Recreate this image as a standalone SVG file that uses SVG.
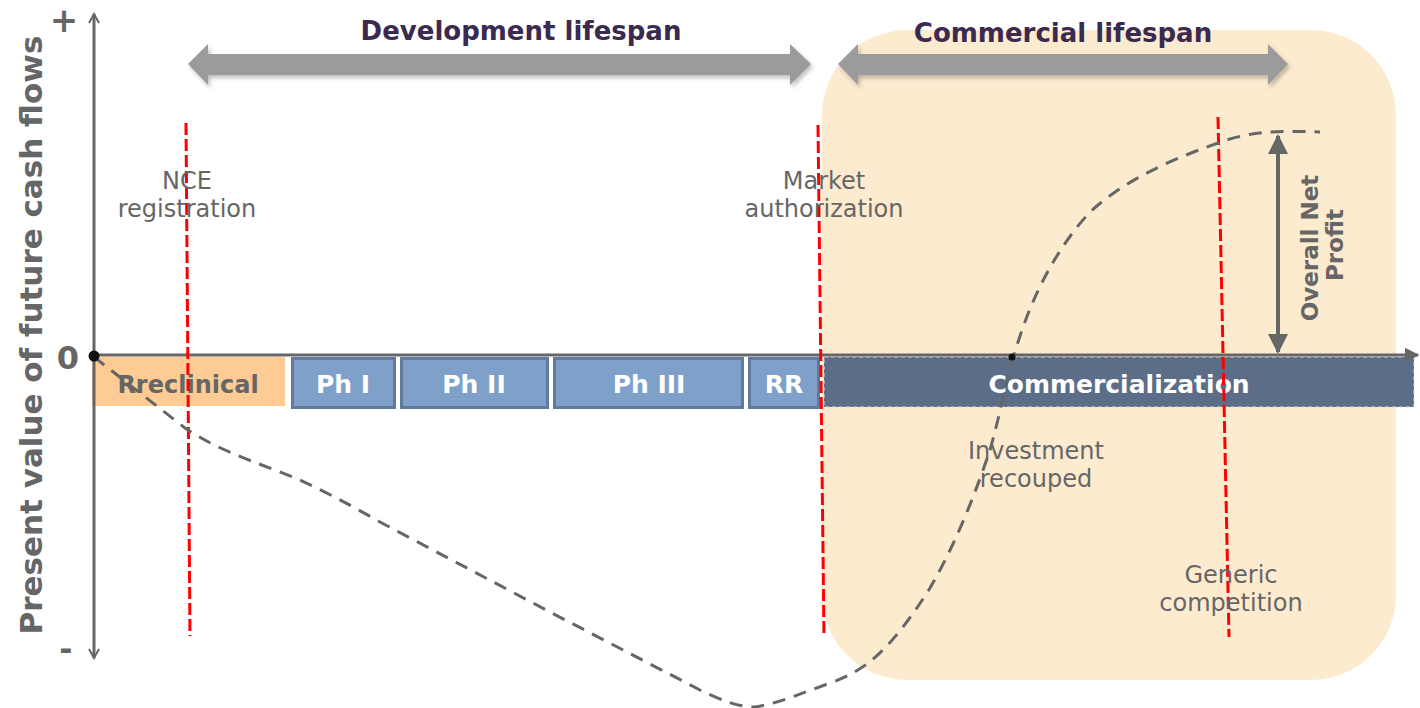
<svg xmlns="http://www.w3.org/2000/svg" width="1420" height="708" viewBox="0 0 1420 708">
<style>
.lbl{font-family:"DejaVu Sans",Verdana,sans-serif;font-size:24px;fill:#666;text-anchor:middle}
.ttl{font-family:"DejaVu Sans",Verdana,sans-serif;font-size:26px;font-weight:bold;fill:#3A2A4F;text-anchor:middle}
.blk{font-family:"DejaVu Sans",Verdana,sans-serif;font-size:25px;font-weight:bold;fill:#fff;text-anchor:middle}
.ax{font-family:"DejaVu Sans",Verdana,sans-serif;font-weight:bold;fill:#666;text-anchor:middle}
.phase{fill:#7FA0C8;stroke:#5F7A9A;stroke-width:3}
.red{stroke:#FF0000;stroke-width:3;stroke-dasharray:12 4;fill:none}
.dbl{fill:#9B9B9B}
</style>
<defs>
<marker id="chev" viewBox="0 0 12 12" refX="10" refY="6" markerWidth="12" markerHeight="12" markerUnits="userSpaceOnUse" orient="auto-start-reverse">
<path d="M1,1 L10,6 L1,11" fill="none" stroke="#666" stroke-width="2"/>
</marker>
<marker id="tri" viewBox="0 0 10 10" refX="9" refY="5" markerWidth="5" markerHeight="5" orient="auto-start-reverse">
<path d="M0,0 L10,5 L0,10 z" fill="#666"/>
</marker>
<filter id="sh" x="-5%" y="-30%" width="110%" height="160%">
<feDropShadow dx="2" dy="3" stdDeviation="2" flood-color="#000" flood-opacity="0.25"/>
</filter>
</defs>

<rect id="commercial-bg" x="822" y="30" width="574" height="650" rx="85" ry="85" fill="#FDEBD0"/>

<g id="dev-arrow">
<path class="dbl" filter="url(#sh)" d="M188,64 L208,44 L208,54 L790,54 L790,44 L811,64 L790,85 L790,75 L208,75 L208,85 Z"/>
<text class="ttl" x="521" y="40">Development lifespan</text>
</g>
<g id="com-arrow">
<path class="dbl" filter="url(#sh)" d="M838,64 L858,44 L858,54 L1268,54 L1268,44 L1288,64 L1268,85 L1268,75 L858,75 L858,85 Z"/>
<text class="ttl" x="1063" y="42">Commercial lifespan</text>
</g>

<g id="preclinical">
<rect x="92" y="357" width="193" height="49" fill="#FECB95"/>
<text class="ax" x="188" y="393" font-size="24">Rreclinical</text>
</g>
<g id="ph1"><rect class="phase" x="292.5" y="358.5" width="102" height="49"/><text class="blk" x="343" y="393">Ph I</text></g>
<g id="ph2"><rect class="phase" x="401.5" y="358.5" width="146" height="49"/><text class="blk" x="474" y="393">Ph II</text></g>
<g id="ph3"><rect class="phase" x="554.5" y="358.5" width="188" height="49"/><text class="blk" x="649" y="393">Ph III</text></g>
<g id="rr"><rect class="phase" x="749.5" y="358.5" width="69" height="49"/><text class="blk" x="784" y="393">RR</text></g>
<g id="commercialization">
<rect x="824" y="357" width="590" height="50" fill="#5B6D87" stroke="#DDD" stroke-width="1" stroke-dasharray="4 3"/>
<text class="blk" x="1119" y="393" font-size="26">Commercialization</text>
</g>

<g id="connectors">
<line x1="94" y1="355" x2="94" y2="14" stroke="#666" stroke-width="3" marker-end="url(#chev)"/>
<line x1="94" y1="355" x2="94" y2="658" stroke="#666" stroke-width="3" marker-end="url(#chev)"/>
<line x1="94" y1="355" x2="1418" y2="355" stroke="#666" stroke-width="3" marker-end="url(#tri)"/>
<line class="red" x1="186" y1="123" x2="190" y2="636"/>
<line class="red" x1="818" y1="125" x2="824" y2="637"/>
<line class="red" x1="1218" y1="117" x2="1229" y2="637"/>
<path d="M94,357 L185,428 C220,452 262,464 300,480 C330,494 350,505 380,522 L550,612 L700,690 C725,702 740,707 755,707 C780,703 805,692 830,683 C850,676 862,668 872,660 C890,645 910,620 930,588 C955,545 975,495 990,450 C1000,415 1005,385 1015,352 C1030,300 1055,250 1090,212 C1125,180 1170,160 1218,143 C1245,133 1270,130 1320,132" fill="none" stroke="#666" stroke-width="3" stroke-dasharray="13 9"/>
<line x1="1278" y1="352" x2="1278" y2="136" stroke="#666" stroke-width="4" marker-start="url(#tri)" marker-end="url(#tri)"/>
<circle cx="94" cy="356" r="5.5" fill="#111"/>
<circle cx="1012" cy="357" r="3.5" fill="#111"/>
</g>

<g id="labels">
<text class="lbl"><tspan x="187" y="189">NCE</tspan><tspan x="187" y="217">registration</tspan></text>
<text class="lbl"><tspan x="824" y="189">Market</tspan><tspan x="824" y="217">authorization</tspan></text>
<text class="lbl"><tspan x="1036" y="459">Investment</tspan><tspan x="1036" y="487">recouped</tspan></text>
<text class="lbl"><tspan x="1231" y="583">Generic</tspan><tspan x="1231" y="611">competition</tspan></text>
<text class="ax" font-size="23" transform="translate(1318,248) rotate(-90)">Overall Net</text>
<text class="ax" font-size="23" transform="translate(1343,245) rotate(-90)">Profit</text>
<text class="ax" font-size="31" transform="translate(42,335) rotate(-90)">Present value of future cash flows</text>
<text class="ax" font-size="34" x="64" y="32">+</text>
<text class="ax" font-size="32" x="68" y="369">0</text>
<text class="ax" font-size="32" x="66" y="660">-</text>
</g>
</svg>
